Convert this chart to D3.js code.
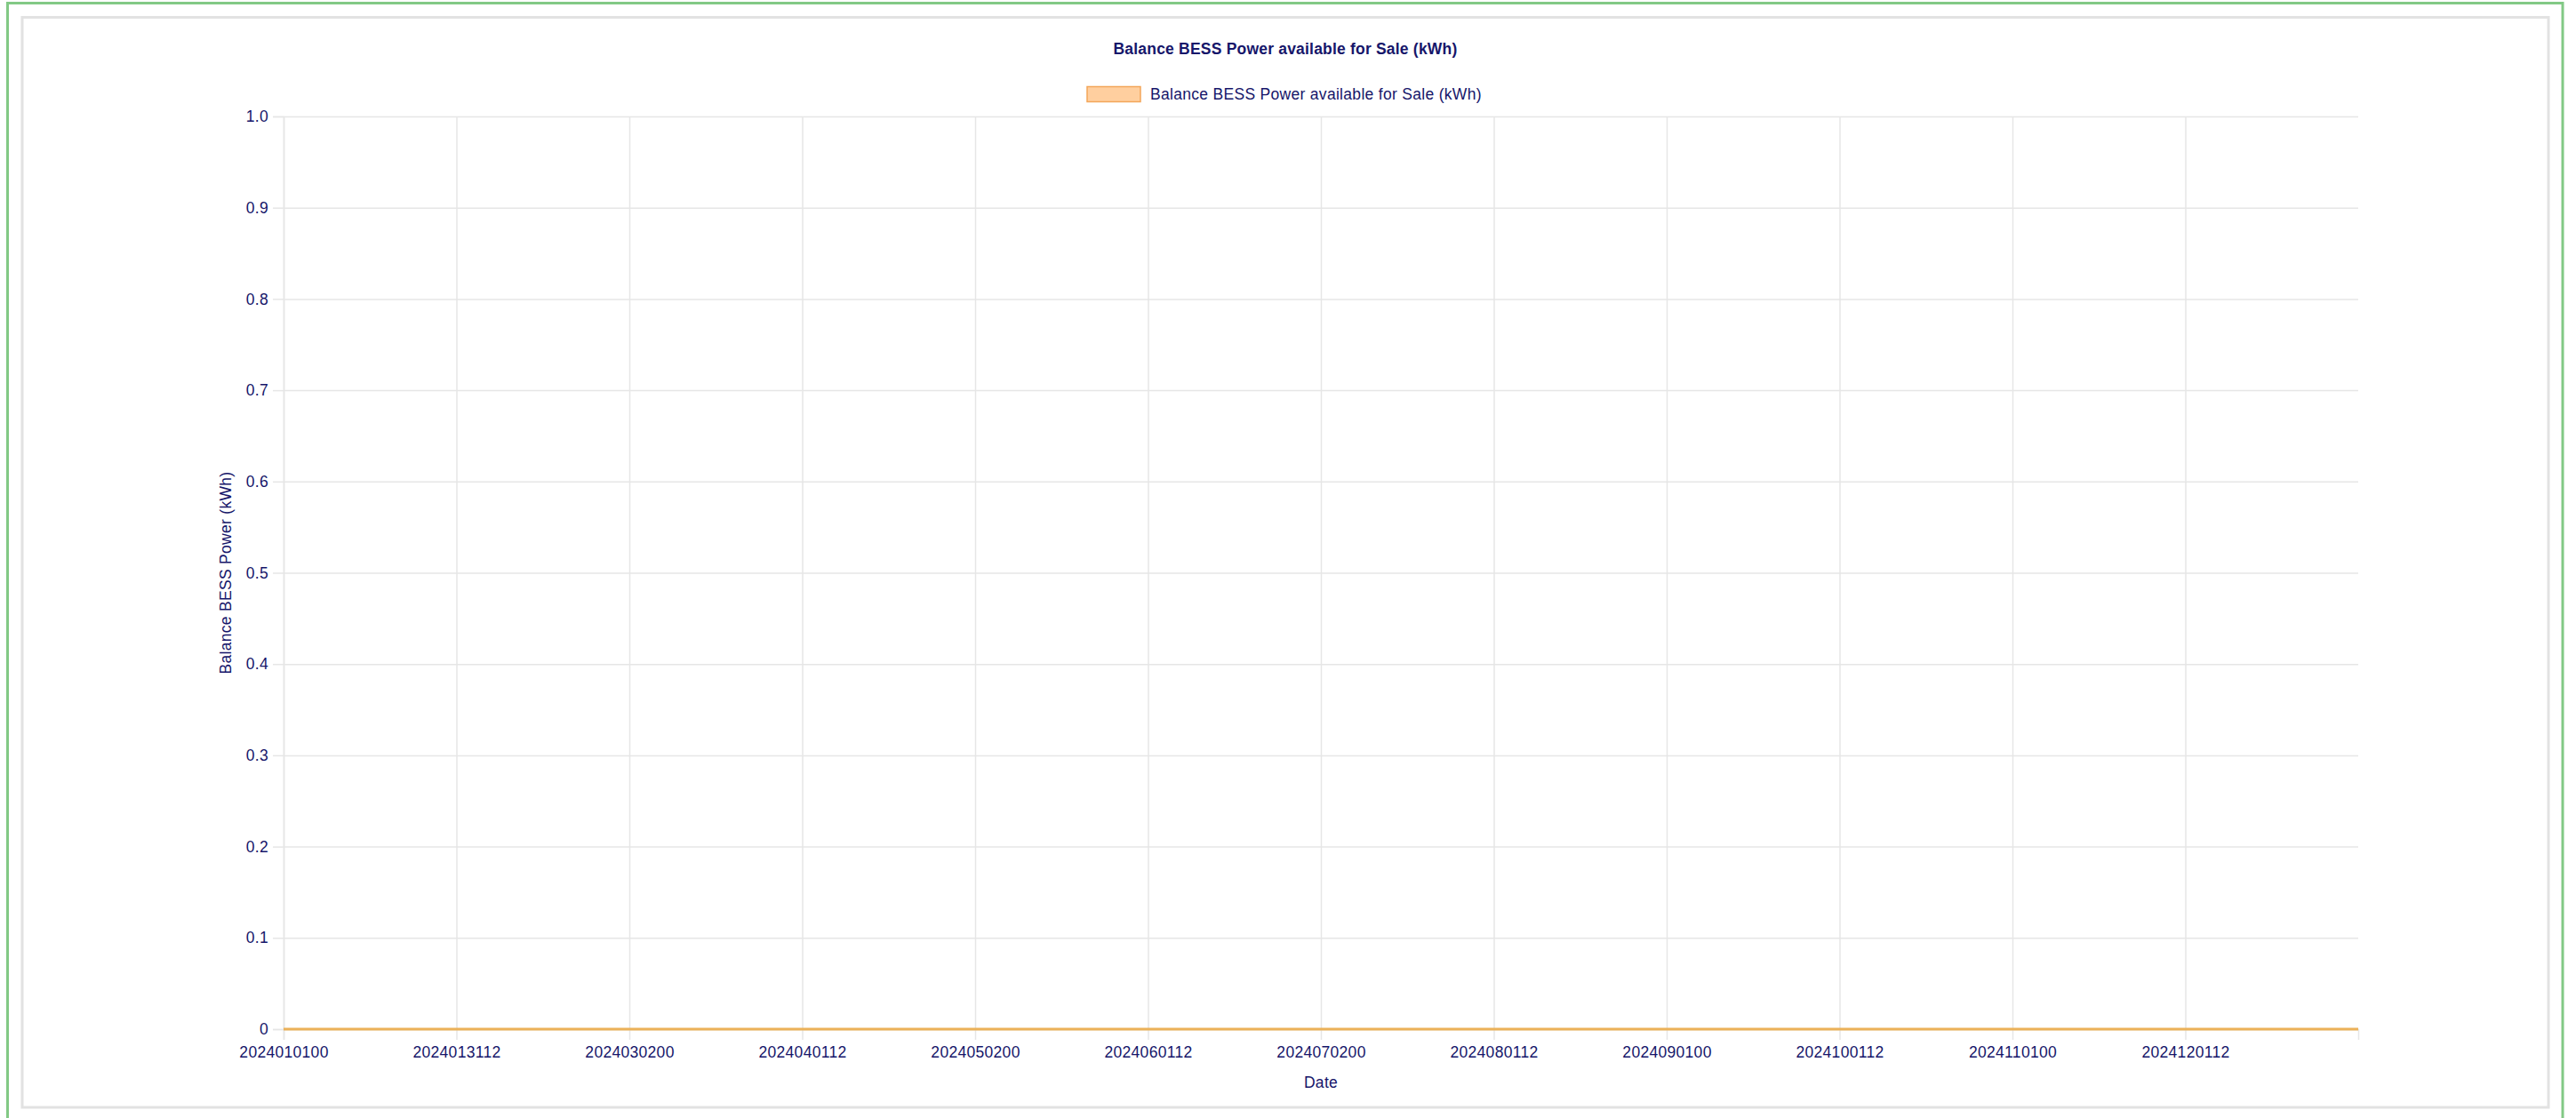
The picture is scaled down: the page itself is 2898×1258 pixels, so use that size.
<!DOCTYPE html>
<html>
<head>
<meta charset="utf-8">
<script src="https://cdn.jsdelivr.net/npm/d3@7/dist/d3.min.js"></script>
<style>
  html, body { margin: 0; padding: 0; background: #ffffff; overflow: hidden; }
  svg { display: block; }
  text { font-family: "Liberation Sans", Arial, Helvetica, sans-serif; }
</style>
</head>
<body>
<svg id="chart" width="2898" height="1258"></svg>
<script>
// ---- data ----
const chartTitle = "Balance BESS Power available for Sale (kWh)";
const seriesName = "Balance BESS Power available for Sale (kWh)";
const yAxisTitle = "Balance BESS Power (kWh)";
const xAxisTitle = "Date";
const categories = ["2024010100","2024013112","2024030200","2024040112","2024050200","2024060112",
                    "2024070200","2024080112","2024090100","2024100112","2024110100","2024120112","2024123123"];
const seriesValues = [0,0,0,0,0,0,0,0,0,0,0,0,0];
const xTickLabels = ["2024010100","2024013112","2024030200","2024040112","2024050200","2024060112",
                     "2024070200","2024080112","2024090100","2024100112","2024110100","2024120112"];
const yTickValues = [0,0.1,0.2,0.3,0.4,0.5,0.6,0.7,0.8,0.9,1.0];
const yTickLabels = ["0","0.1","0.2","0.3","0.4","0.5","0.6","0.7","0.8","0.9","1.0"];

// ---- layout ----
const W = 2898, H = 1258;
const plot = { left: 319, right: 2653, top: 131, bottom: 1158 };
const textColor = "#16166a";
const gridColor = "#e6e6e6";
const lineColor = "#ebb158";
const fontSize = 17.5;
const spacing = 0.3;

const svg = d3.select("#chart");

// frames
svg.append("rect").attr("x", 8.5).attr("y", 3.5).attr("width", 2874.5).attr("height", 1300)
  .attr("fill", "none").attr("stroke", "#82c985").attr("stroke-width", 3);
svg.append("rect").attr("x", 25).attr("y", 19.5).attr("width", 2842).attr("height", 1226.5)
  .attr("fill", "#ffffff").attr("stroke", "#e2e2e2").attr("stroke-width", 3);

const x = d3.scalePoint().domain(categories).range([plot.left, plot.right]);
const y = d3.scaleLinear().domain([0, 1]).range([plot.bottom, plot.top]);

// horizontal grid
const yGrid = svg.append("g").attr("transform", `translate(${plot.left},0)`)
  .call(d3.axisLeft(y).tickValues(yTickValues).tickSize(-(plot.right - plot.left)).tickFormat(""));
yGrid.select(".domain").remove();
yGrid.selectAll("line").attr("stroke", gridColor).attr("stroke-width", 1.5);

// vertical grid
const xGrid = svg.append("g").attr("transform", `translate(0,${plot.bottom})`)
  .call(d3.axisBottom(x).tickValues(xTickLabels).tickSize(-(plot.bottom - plot.top)).tickFormat(""));
xGrid.select(".domain").remove();
xGrid.selectAll("line").attr("stroke", gridColor).attr("stroke-width", 1.5);

// y axis ticks + labels
const yAxis = svg.append("g").attr("transform", `translate(${plot.left},0)`)
  .call(d3.axisLeft(y).tickValues(yTickValues).tickSize(12).tickPadding(5)
    .tickFormat((d, i) => yTickLabels[i]));
yAxis.select(".domain").attr("stroke", gridColor).attr("stroke-width", 1.5);
yAxis.selectAll(".tick line").attr("stroke", gridColor).attr("stroke-width", 1.5);
yAxis.selectAll(".tick text").attr("fill", textColor).attr("font-size", fontSize)
  .attr("letter-spacing", spacing).attr("font-family", "Liberation Sans, Arial, sans-serif");

// x axis ticks + labels
const xAxis = svg.append("g").attr("transform", `translate(0,${plot.bottom})`)
  .call(d3.axisBottom(x).tickValues(xTickLabels).tickSize(12).tickPadding(8));
xAxis.select(".domain").attr("stroke", gridColor).attr("stroke-width", 1.5);
xAxis.selectAll(".tick line").attr("stroke", gridColor).attr("stroke-width", 1.5);
xAxis.selectAll(".tick text").attr("fill", textColor).attr("font-size", fontSize)
  .attr("letter-spacing", spacing).attr("font-family", "Liberation Sans, Arial, sans-serif");

// series line
const line = d3.line().x((d, i) => x(categories[i])).y(d => y(d));
svg.append("path").datum(seriesValues).attr("d", line)
  .attr("fill", "none").attr("stroke", lineColor).attr("stroke-width", 3);

// title
svg.append("text").attr("x", 1446).attr("y", 55).attr("text-anchor", "middle")
  .attr("dominant-baseline", "central").attr("font-weight", "bold").attr("font-size", 17.5)
  .attr("letter-spacing", 0.2).attr("fill", textColor).text(chartTitle);

// legend
svg.append("rect").attr("x", 1223).attr("y", 97.5).attr("width", 60).attr("height", 17)
  .attr("fill", "rgba(255,159,64,0.5)").attr("stroke", "#f3a65a").attr("stroke-width", 1.5);
svg.append("text").attr("x", 1294).attr("y", 106).attr("dominant-baseline", "central")
  .attr("font-size", fontSize).attr("letter-spacing", spacing).attr("fill", textColor).text(seriesName);

// axis titles
svg.append("text").attr("transform", `translate(254,${(plot.top + plot.bottom) / 2}) rotate(-90)`)
  .attr("text-anchor", "middle").attr("dominant-baseline", "central")
  .attr("font-size", fontSize).attr("letter-spacing", spacing).attr("fill", textColor).text(yAxisTitle);
svg.append("text").attr("x", (plot.left + plot.right) / 2).attr("y", 1218)
  .attr("text-anchor", "middle").attr("dominant-baseline", "central")
  .attr("font-size", fontSize).attr("letter-spacing", spacing).attr("fill", textColor).text(xAxisTitle);
</script>
</body>
</html>
